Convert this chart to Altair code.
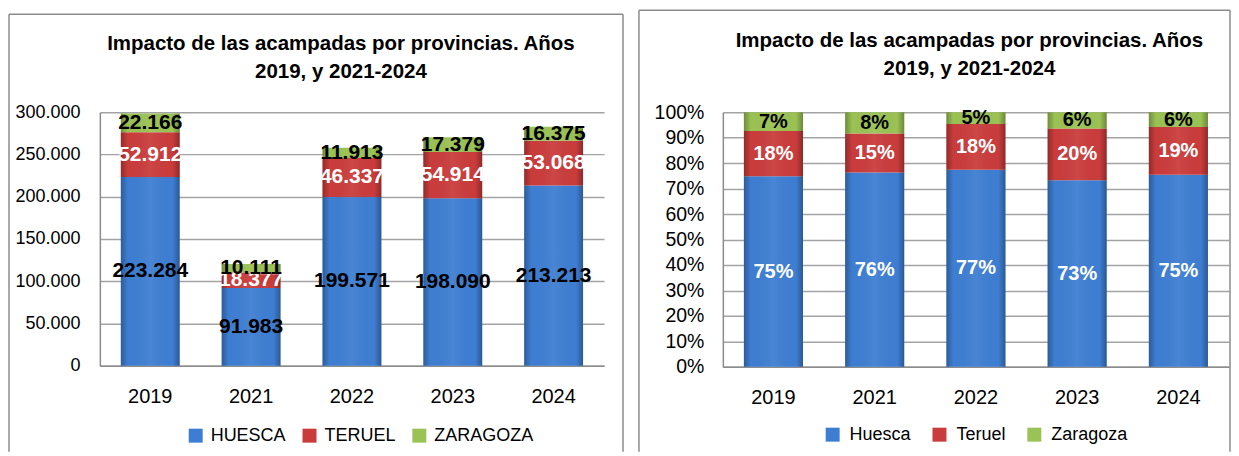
import altair as alt
import pandas as pd

years = ["2019", "2021", "2022", "2023", "2024"]
huesca = [223284, 91983, 199571, 198090, 213213]
teruel = [52912, 18377, 46337, 54914, 53068]
zaragoza = [22166, 10111, 11913, 17379, 16375]

prov_upper = ["HUESCA", "TERUEL", "ZARAGOZA"]
prov_lower = ["Huesca", "Teruel", "Zaragoza"]
colors = ["#3e7ed2", "#ca3c3c", "#9bc254"]

title_lines = ["Impacto de las acampadas por provincias. Años", "2019, y 2021-2024"]
y_ticks_abs = [0, 50000, 100000, 150000, 200000, 250000, 300000]
y_ticks_pct = [0, 0.1, 0.2, 0.3, 0.4, 0.5, 0.6, 0.7, 0.8, 0.9, 1.0]

rows = []
for i, y in enumerate(years):
    for k, vals in enumerate([huesca, teruel, zaragoza]):
        rows.append({"year": y, "prov": prov_upper[k], "prov2": prov_lower[k],
                     "order": k, "value": vals[i]})
df = pd.DataFrame(rows)

FONT = "Liberation Sans"
GRID = "#a3a3a3"
DOMAIN = "#8c8c8c"
FRAME = "#8c8c8c"

shade = alt.LinearGradient(
    gradient="linear", x1=0, x2=1, y1=0, y2=0,
    stops=[
        alt.GradientStop(offset=0, color="rgba(0,0,0,0.28)"),
        alt.GradientStop(offset=0.12, color="rgba(0,0,0,0.0)"),
        alt.GradientStop(offset=0.5, color="rgba(255,255,255,0.06)"),
        alt.GradientStop(offset=0.88, color="rgba(0,0,0,0.0)"),
        alt.GradientStop(offset=1, color="rgba(0,0,0,0.30)"),
    ],
)

frame_df = pd.DataFrame({"f": [0]})


def frame(x1, x2, y1, y2):
    base = alt.Chart(frame_df)
    return [
        base.mark_rule(color=FRAME, strokeWidth=1.5).encode(
            x=alt.value(x1), y=alt.value(y1), y2=alt.value(y2)),
        base.mark_rule(color=FRAME, strokeWidth=1.5).encode(
            x=alt.value(x1), x2=alt.value(x2), y=alt.value(y1)),
        base.mark_rule(color=FRAME, strokeWidth=1.5).encode(
            x=alt.value(x2), y=alt.value(y1), y2=alt.value(y2)),
    ]


x_axis = alt.Axis(title=None, labelAngle=0, labelFontSize=20, labelPadding=21,
                  ticks=False, domain=True, domainColor=DOMAIN, domainWidth=1.5,
                  labelColor="black", grid=False, labelFont=FONT)
x_scale = alt.Scale(paddingInner=0.416, paddingOuter=0.208)


def X():
    return alt.X("year:N", sort=years, axis=x_axis, scale=x_scale)


# ---------- Left chart: absolute values ----------
left_axis = alt.Axis(title=None, values=y_ticks_abs,
                     labelExpr="replace(format(datum.value, ','), regexp(',', 'g'), '.')",
                     labelFontSize=18, labelPadding=20, ticks=False,
                     grid=True, gridColor=GRID, gridWidth=1.5, labelOverlap=False,
                     domainColor=DOMAIN, domainWidth=1.5, labelColor="black",
                     labelFont=FONT)
left_scale = alt.Scale(domain=[0, 300000], nice=False)

left_base = alt.Chart(df).transform_stack(
    stack="value", groupby=["year"], as_=["y0", "y1"],
    sort=[alt.SortField("order", order="ascending")]
).transform_calculate(
    mid="(datum.y0 + datum.y1) / 2",
    lbl="replace(format(datum.value, ','), regexp(',', 'g'), '.')",
)

left_bars = left_base.mark_bar().encode(
    x=X(),
    y=alt.Y("y0:Q", scale=left_scale, axis=left_axis),
    y2="y1:Q",
    color=alt.Color("prov:N", scale=alt.Scale(domain=prov_upper, range=colors),
                    legend=alt.Legend(title=None, orient="none", legendX=87, legendY=315,
                                      direction="horizontal", symbolType="square",
                                      symbolSize=196, symbolStrokeWidth=0,
                                      labelFontSize=18, labelOffset=6, columnPadding=14,
                                      labelFont=FONT, labelColor="black", padding=0)),
)
left_shade = left_base.mark_bar(fill=shade).encode(
    x=X(), y=alt.Y("y0:Q", scale=left_scale, axis=left_axis), y2="y1:Q")
left_text = left_base.mark_text(font=FONT, fontSize=21, fontWeight="bold",
                                baseline="middle").encode(
    x=X(),
    y=alt.Y("mid:Q", scale=left_scale, axis=left_axis),
    text="lbl:N",
    color=alt.condition(alt.datum.prov == "TERUEL", alt.value("white"), alt.value("black")),
)

left = alt.layer(*frame(-91, 524, -98, 340),
                 left_bars, left_shade, left_text).properties(
    width=505, height=254,
    title=alt.TitleParams(text=title_lines, font=FONT, fontSize=20.5, fontWeight="bold",
                          lineHeight=28, dx=-11, offset=-69, anchor="middle", color="black",
                          frame="group"),
)

# ---------- Right chart: percentages ----------
right_axis = alt.Axis(title=None, values=y_ticks_pct, format=".0%",
                      labelFontSize=19.5, labelPadding=19, ticks=False,
                      grid=True, gridColor=GRID, gridWidth=1.5, labelOverlap=False,
                      domainColor=DOMAIN, domainWidth=1.5, labelColor="black",
                      labelFont=FONT)
right_scale = alt.Scale(domain=[0, 1], nice=False)

right_base = alt.Chart(df).transform_joinaggregate(
    total="sum(value)", groupby=["year"]
).transform_calculate(
    pct="datum.value / datum.total"
).transform_stack(
    stack="value", groupby=["year"], as_=["y0", "y1"], offset="normalize",
    sort=[alt.SortField("order", order="ascending")]
).transform_calculate(
    mid="(datum.y0 + datum.y1) / 2"
)

right_bars = right_base.mark_bar().encode(
    x=X(),
    y=alt.Y("y0:Q", scale=right_scale, axis=right_axis),
    y2="y1:Q",
    color=alt.Color("prov2:N", scale=alt.Scale(domain=prov_lower, range=colors),
                    legend=alt.Legend(title=None, orient="none", legendX=101, legendY=314,
                                      direction="horizontal", symbolType="square",
                                      symbolSize=196, symbolStrokeWidth=0,
                                      labelFontSize=18, labelOffset=8, columnPadding=19,
                                      labelFont=FONT, labelColor="black", padding=0)),
)
right_shade = right_base.mark_bar(fill=shade).encode(
    x=X(), y=alt.Y("y0:Q", scale=right_scale, axis=right_axis), y2="y1:Q")
right_text = right_base.mark_text(font=FONT, fontSize=20, fontWeight="bold",
                                  baseline="middle").encode(
    x=X(),
    y=alt.Y("mid:Q", scale=right_scale, axis=right_axis),
    text=alt.Text("pct:Q", format=".0%"),
    color=alt.condition(alt.datum.prov2 == "Zaragoza", alt.value("black"), alt.value("white")),
)

right = alt.layer(*frame(-84, 508, -102, 340),
                  right_bars, right_shade, right_text).properties(
    width=507, height=255,
    title=alt.TitleParams(text=title_lines, font=FONT, fontSize=20.5, fontWeight="bold",
                          lineHeight=28, dx=-6.5, offset=-70, anchor="middle", color="black",
                          frame="group"),
)

chart = alt.hconcat(left, right, spacing=14).resolve_scale(
    color="independent", x="independent", y="independent"
).resolve_legend(color="independent").properties(
    padding={"left": 0, "top": 1, "right": 0, "bottom": 0}
).configure(font=FONT).configure_view(stroke=None)

chart.save("out.html", embed_options={"renderer": "svg", "actions": False})
